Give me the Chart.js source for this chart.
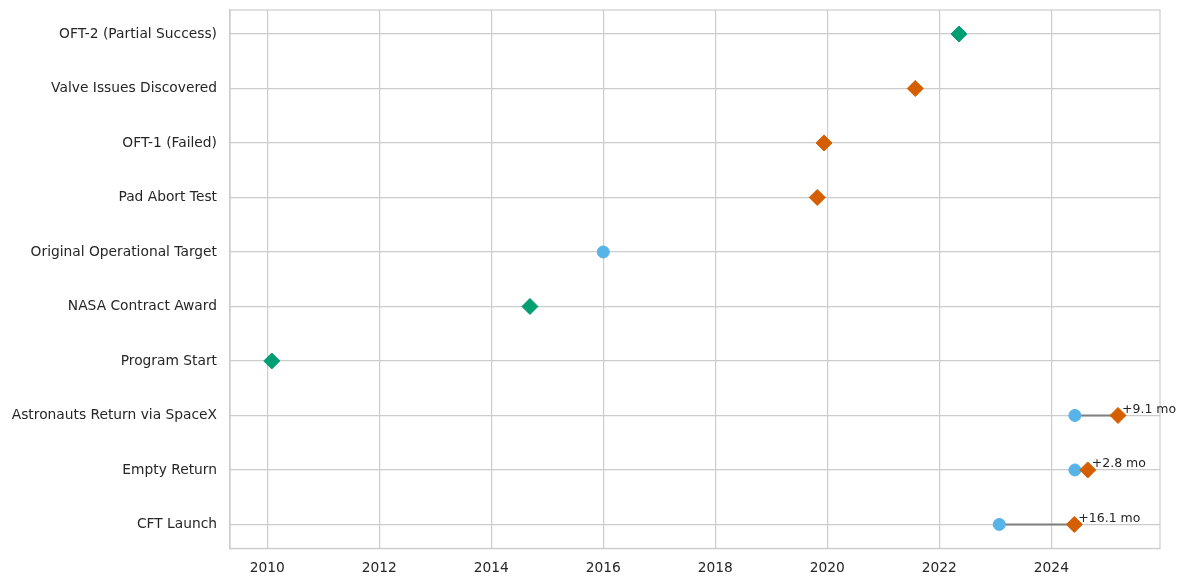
<!DOCTYPE html>
<html>
<head>
<meta charset="utf-8">
<script src="https://cdn.jsdelivr.net/npm/chart.js@4.4.1/dist/chart.umd.min.js"></script>
<style>
  html, body { margin: 0; padding: 0; background: #fff; }
  #wrap { width: 1186px; height: 586px; }
</style>
</head>
<body>
<div id="wrap"><canvas id="chart" width="1186" height="586"></canvas></div>
<script>
// categories, bottom to top (y index 0..9)
const milestones = [
  "CFT Launch",
  "Empty Return",
  "Astronauts Return via SpaceX",
  "Program Start",
  "NASA Contract Award",
  "Original Operational Target",
  "Pad Abort Test",
  "OFT-1 (Failed)",
  "Valve Issues Discovered",
  "OFT-2 (Partial Success)"
]

// planned dates (blue circles)
const plannedRows  = [0, 1, 2, 5]
const plannedDates = [2023.07, 2024.42, 2024.42, 2016.0]

// delayed / troubled events (orange diamonds)
const delayedRows  = [0, 1, 2, 6, 7, 8]
const delayedDates = [2024.41, 2024.65, 2025.19, 2019.82, 2019.94, 2021.57]

// completed on-track events (green diamonds)
const doneRows  = [3, 4, 9]
const doneDates = [2010.08, 2014.69, 2022.35]

// slip between plan and actual
const slipRows   = [0, 1, 2]
const slipLabels = ["+16.1 mo", "+2.8 mo", "+9.1 mo"]

const yearTicks = [2010, 2012, 2014, 2016, 2018, 2020, 2022, 2024]

const BLUE = "#56B4E9"
const ORANGE = "#D55E00"
const GREEN = "#009E73"
const GRID = "#cccccc"
const TEXT = "#262626"

const toPoints = (rows, dates) => rows.map((r, i) => ({ x: dates[i], y: r }))

// gray connectors between plan and actual
const slipLines = slipRows.map(r => {
  const p = plannedDates[plannedRows.indexOf(r)]
  const a = delayedDates[delayedRows.indexOf(r)]
  return {
    type: "line",
    data: [{ x: p, y: r }, { x: a, y: r }],
    borderColor: "#808080",
    borderWidth: 2,
    pointRadius: 0,
    showLine: true,
    order: 5
  }
})

const frameAndLabels = {
  id: "frameAndLabels",
  afterDatasetsDraw(chart) {
    const { ctx, chartArea, scales } = chart
    ctx.save()
    ctx.strokeStyle = GRID
    ctx.lineWidth = 1.2
    ctx.strokeRect(chartArea.left, chartArea.top, chartArea.right - chartArea.left, chartArea.bottom - chartArea.top)
    ctx.fillStyle = TEXT
    ctx.font = "12.5px 'DejaVu Sans'"
    ctx.textAlign = "left"
    ctx.textBaseline = "middle"
    slipRows.forEach((r, i) => {
      const a = delayedDates[delayedRows.indexOf(r)]
      ctx.fillText(slipLabels[i], scales.x.getPixelForValue(a) + 4, scales.y.getPixelForValue(r) - 6)
    })
    ctx.restore()
  }
}

new Chart(document.getElementById("chart"), {
  type: "scatter",
  data: {
    datasets: [
      { data: toPoints(doneRows, doneDates), backgroundColor: GREEN, borderColor: GREEN, pointStyle: "rectRot", pointRadius: 8, order: 1 },
      { data: toPoints(delayedRows, delayedDates), backgroundColor: ORANGE, borderColor: ORANGE, pointStyle: "rectRot", pointRadius: 8, order: 1 },
      { data: toPoints(plannedRows, plannedDates), backgroundColor: BLUE, borderColor: BLUE, pointStyle: "circle", pointRadius: 6, order: 2 },
      ...slipLines
    ]
  },
  options: {
    responsive: false,
    animation: false,
    layout: { padding: { top: 10, right: 26, bottom: -3, left: 0 } },
    plugins: { legend: { display: false }, tooltip: { enabled: false } },
    scales: {
      x: {
        type: "linear",
        min: 2009.334,
        max: 2025.94,
        afterBuildTicks: (scale) => { scale.ticks = yearTicks.map(v => ({ value: v })) },
        ticks: { color: TEXT, font: { family: "DejaVu Sans", size: 13.8 }, padding: 12, callback: (v) => String(v) },
        grid: { color: GRID, lineWidth: 1.2, drawTicks: false },
        border: { color: GRID, width: 1.2 }
      },
      y: {
        type: "linear",
        min: -0.44,
        max: 9.44,
        afterBuildTicks: (scale) => { scale.ticks = milestones.map((m, i) => ({ value: i })) },
        afterFit: (scale) => { scale.width = 230; scale.paddingTop = 0 },
        ticks: {
          color: TEXT,
          font: { family: "DejaVu Sans", size: 13.8 },
          padding: 13,
          callback: (v) => milestones[v]
        },
        grid: { color: GRID, lineWidth: 1.2, drawTicks: false },
        border: { color: GRID, width: 1.2 }
      }
    }
  },
  plugins: [frameAndLabels]
})
</script>
</body>
</html>
